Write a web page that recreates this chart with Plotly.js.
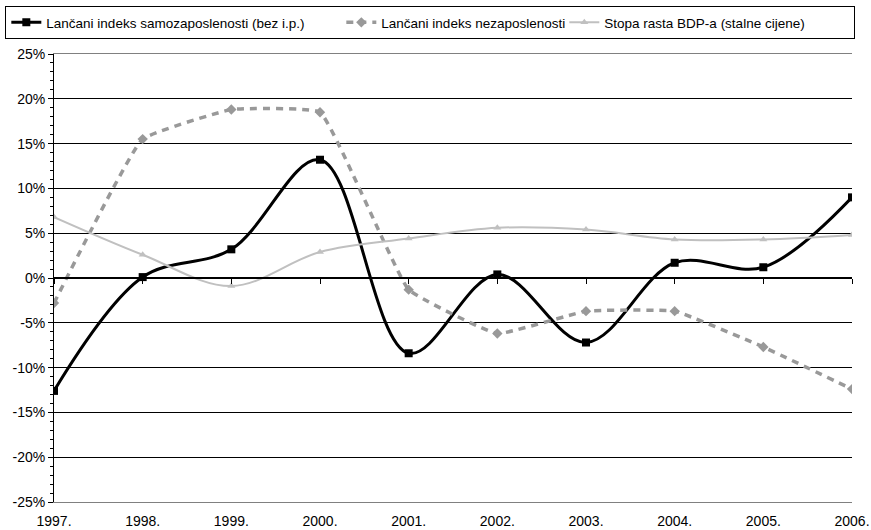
<!DOCTYPE html>
<html>
<head>
<meta charset="utf-8">
<script src="https://cdn.plot.ly/plotly-3.0.1.min.js"></script>
<style>html,body{margin:0;padding:0;background:#fff;}#chart{width:871px;height:530px;}</style>
</head>
<body>
<div id="chart"></div>
<script>
const years = ['1997.', '1998.', '1999.', '2000.', '2001.', '2002.', '2003.', '2004.', '2005.', '2006.'];
const samozaposlenost = [-12.6, 0.1, 3.2, 13.2, -8.4, 0.4, -7.2, 1.7, 1.2, 9.0];
const nezaposlenost = [-2.8, 15.5, 18.8, 18.5, -1.3, -6.2, -3.7, -3.7, -7.7, -12.4];
const bdp = [6.8, 2.6, -0.9, 2.9, 4.4, 5.6, 5.4, 4.3, 4.3, 4.8];
const yTicks = [-25, -20, -15, -10, -5, 0, 5, 10, 15, 20, 25];
const yTickText = yTicks.map(v => v + '%');

const font = {family: 'Liberation Sans, Arial, sans-serif', size: 14, color: '#000'};
const legendFont = {family: 'Liberation Sans, Arial, sans-serif', size: 13.5, color: '#000'};

const traces = [
  {x: years, y: samozaposlenost, name: 'Lančani indeks samozaposlenosti (bez i.p.)', type: 'scatter', mode: 'lines+markers',
   line: {color: '#000', width: 3, shape: 'spline', smoothing: 1},
   marker: {symbol: 'square', size: 8, color: '#000'}, legendwidth: 290},
  {x: years, y: nezaposlenost, name: 'Lančani indeks nezaposlenosti', type: 'scatter', mode: 'lines+markers',
   line: {color: '#999999', width: 3.5, shape: 'spline', smoothing: 0.3, dash: '7px,6px'},
   marker: {symbol: 'diamond', size: 8, color: '#999999'}, legendwidth: 178},
  {x: years, y: bdp, name: 'Stopa rasta BDP-a (stalne cijene)', type: 'scatter', mode: 'lines+markers',
   line: {color: '#c0c0c0', width: 2, shape: 'spline', smoothing: 1},
   marker: {symbol: 'triangle-up', size: 7, color: '#c0c0c0'}, legendwidth: 245},
  {x: years, y: years.map(() => null), xaxis: 'x2', yaxis: 'y', showlegend: false, hoverinfo: 'skip', type: 'scatter', mode: 'lines'}
];

const layout = {
  width: 871, height: 530,
  margin: {l: 54, r: 19, t: 54, b: 28, autoexpand: false},
  paper_bgcolor: '#fff', plot_bgcolor: '#fff',
  font: font,
  showlegend: true,
  legend: {orientation: 'h', x: -0.061, xanchor: 'left', y: 1.107, yanchor: 'top',
           bordercolor: '#000', borderwidth: 1, font: legendFont, bgcolor: '#fff',
           itemwidth: 30, tracegroupgap: 0},
  xaxis: {type: 'category', range: [0, 9], showgrid: false, zeroline: false,
          showline: true, linecolor: '#808080', linewidth: 1, mirror: true,
          ticks: '', tickfont: font, ticklabelstandoff: 6},
  xaxis2: {type: 'category', range: [0, 9], overlaying: 'x', anchor: 'free', position: 0.5,
           showgrid: false, zeroline: false, showline: true, linecolor: '#000', linewidth: 2,
           ticks: 'outside', ticklen: 5, tickwidth: 1, tickcolor: '#000', showticklabels: false},
  yaxis: {range: [-25, 25], tickvals: yTicks, ticktext: yTickText, tickfont: font,
          showgrid: true, gridcolor: '#000', gridwidth: 1, zeroline: false,
          showline: true, linecolor: '#000', linewidth: 1,
          ticks: 'outside', ticklen: 5, tickcolor: '#000',
          minor: {dtick: 1, ticks: 'outside', ticklen: 3, tickcolor: '#000', showgrid: false}},
  hovermode: false
};

Plotly.newPlot('chart', traces, layout, {staticPlot: true});
</script>
</body>
</html>
